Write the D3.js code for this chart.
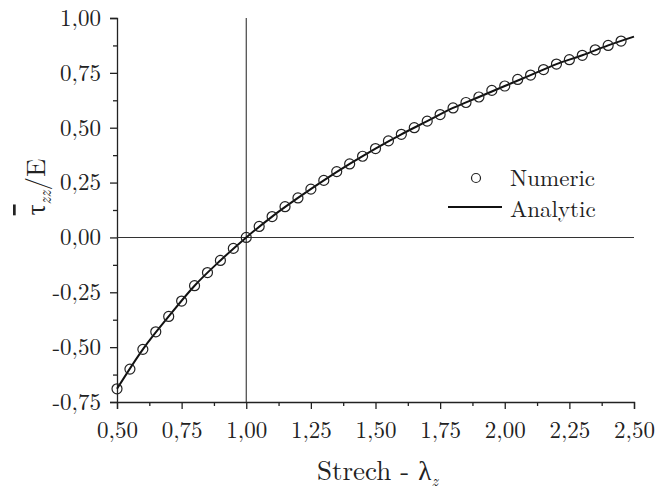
<!doctype html>
<html lang="en">
<head>
	<meta charset="UTF-8">
	<title>Strech vs stress</title>
	<script src="https://cdn.jsdelivr.net/npm/d3@7"></script>
	<style>
		body { margin: 0; background: #fff; }
		.axis path, .axis line { stroke: #222; stroke-width: 1.3; }
	</style>
</head>
<body>
	<script>
		// numeric points
		var numX = [0.50, 0.55, 0.60, 0.65, 0.70, 0.75, 0.80, 0.85, 0.90, 0.95,
			1.00, 1.05, 1.10, 1.15, 1.20, 1.25, 1.30, 1.35, 1.40, 1.45,
			1.50, 1.55, 1.60, 1.65, 1.70, 1.75, 1.80, 1.85, 1.90, 1.95,
			2.00, 2.05, 2.10, 2.15, 2.20, 2.25, 2.30, 2.35, 2.40, 2.45];
		var numY = [-0.69, -0.60, -0.51, -0.43, -0.36, -0.29, -0.22, -0.16, -0.105, -0.05,
			0.00, 0.05, 0.095, 0.14, 0.18, 0.22, 0.26, 0.30, 0.335, 0.37,
			0.405, 0.44, 0.47, 0.50, 0.53, 0.56, 0.59, 0.615, 0.64, 0.67,
			0.69, 0.72, 0.74, 0.765, 0.79, 0.81, 0.83, 0.855, 0.875, 0.895];

		// analytic curve
		var anaX = [0.5, 0.6, 0.7, 0.8, 0.9, 1.0, 1.1, 1.2, 1.3, 1.4, 1.5,
			1.6, 1.7, 1.8, 1.9, 2.0, 2.1, 2.2, 2.3, 2.4, 2.5];
		var anaY = [-0.69, -0.51, -0.36, -0.22, -0.105, 0.0, 0.095, 0.18, 0.26, 0.335, 0.405,
			0.47, 0.53, 0.59, 0.64, 0.69, 0.74, 0.79, 0.83, 0.875, 0.915];

		var xTicks = [0.5, 0.75, 1.0, 1.25, 1.5, 1.75, 2.0, 2.25, 2.5];
		var yTicks = [-0.75, -0.5, -0.25, 0, 0.25, 0.5, 0.75, 1.0];

		var serif = '"Latin Modern Roman", "CMU Serif", "Liberation Serif", serif';

		var w = 667,
			h = 490,
			margin = {top: 18, right: 33, bottom: 88, left: 117};

		var svg = d3.select('body')
			.append('svg')
			.attr('width', w)
			.attr('height', h);

		var x = d3.scaleLinear().domain([0.5, 2.5]).range([margin.left, w - margin.right]);
		var y = d3.scaleLinear().domain([-0.75, 1.0]).range([h - margin.bottom, margin.top]);

		var fmt = function(d) { return d3.format('.2f')(d).replace('.', ',').replace('\u2212', '-'); };

		// minor ticks
		var xMinor = d3.range(0.625, 2.5, 0.25);
		var yMinor = d3.range(-0.625, 1.0, 0.25);

		svg.append('g')
			.attr('class', 'axis')
			.attr('transform', 'translate(0,' + y(-0.75) + ')')
			.call(d3.axisBottom(x).tickValues(xMinor).tickSize(4).tickFormat(''))
			.select('.domain').remove();

		svg.append('g')
			.attr('class', 'axis')
			.attr('transform', 'translate(' + x(0.5) + ',0)')
			.call(d3.axisLeft(y).tickValues(yMinor).tickSize(4).tickFormat(''))
			.select('.domain').remove();

		var gx = svg.append('g')
			.attr('class', 'axis')
			.attr('transform', 'translate(0,' + y(-0.75) + ')')
			.call(d3.axisBottom(x).tickValues(xTicks).tickSizeOuter(0).tickSize(7).tickPadding(13).tickFormat(fmt));
		gx.selectAll('text')
			.style('font-family', serif)
			.style('font-size', '23px')
			.attr('fill', '#222');

		var gy = svg.append('g')
			.attr('class', 'axis')
			.attr('transform', 'translate(' + x(0.5) + ',0)')
			.call(d3.axisLeft(y).tickValues(yTicks).tickSizeOuter(0).tickSize(7).tickPadding(9).tickFormat(fmt));
		gy.selectAll('text')
			.style('font-family', serif)
			.style('font-size', '23px')
			.attr('fill', '#222');

		// reference lines at x = 1 and y = 0
		svg.append('line')
			.attr('x1', x(1)).attr('x2', x(1))
			.attr('y1', y(1)).attr('y2', y(-0.75))
			.attr('stroke', '#333').attr('stroke-width', 1.1);
		svg.append('line')
			.attr('x1', x(0.5)).attr('x2', x(2.5))
			.attr('y1', y(0)).attr('y2', y(0))
			.attr('stroke', '#333').attr('stroke-width', 1.1);

		// analytic line
		var line = d3.line()
			.x(function(d) { return x(d[0]); })
			.y(function(d) { return y(d[1]); })
			.curve(d3.curveMonotoneX);

		svg.append('path')
			.datum(d3.zip(anaX, anaY))
			.attr('d', line)
			.attr('fill', 'none')
			.attr('stroke', '#111')
			.attr('stroke-width', 2);

		// numeric markers
		svg.selectAll('circle.num')
			.data(d3.zip(numX, numY))
			.enter()
			.append('circle')
			.attr('class', 'num')
			.attr('cx', function(d) { return x(d[0]); })
			.attr('cy', function(d) { return y(d[1]); })
			.attr('r', 5)
			.attr('fill', 'none')
			.attr('stroke', '#222')
			.attr('stroke-width', 1.2);

		// legend
		var lg = svg.append('g').attr('transform', 'translate(448,178)');
		lg.append('circle').attr('cx', 28).attr('cy', 0).attr('r', 4.5)
			.attr('fill', 'none').attr('stroke', '#222').attr('stroke-width', 1.2);
		lg.append('line').attr('x1', 0).attr('x2', 54).attr('y1', 29).attr('y2', 29)
			.attr('stroke', '#111').attr('stroke-width', 2);
		lg.selectAll('text')
			.data(['Numeric', 'Analytic'])
			.enter()
			.append('text')
			.attr('x', 62)
			.attr('y', function(d, i) { return 8 + i * 31; })
			.attr('fill', '#222')
			.style('font-family', serif)
			.style('font-size', '23px')
			.text(function(d) { return d; });

		// axis titles
		var xt = svg.append('text')
			.attr('x', 317)
			.attr('y', 480)
			.attr('fill', '#222')
			.style('font-family', serif)
			.style('font-size', '27px');
		xt.append('tspan').text('Strech - \u03bb');
		xt.append('tspan').attr('dy', 6).style('font-size', '16px').style('font-style', 'italic').text('z');

		var yt = svg.append('text')
			.attr('transform', 'translate(45,187) rotate(-90)')
			.attr('text-anchor', 'middle')
			.attr('fill', '#222')
			.style('font-family', serif)
			.style('font-size', '27px');
		yt.append('tspan').style('text-decoration', 'overline').text('\u03c4');
		yt.append('tspan').attr('dy', 6).style('font-size', '17px').style('font-style', 'italic').text('zz');
		yt.append('tspan').attr('dy', -6).text('/E');
	</script>
</body>
</html>
